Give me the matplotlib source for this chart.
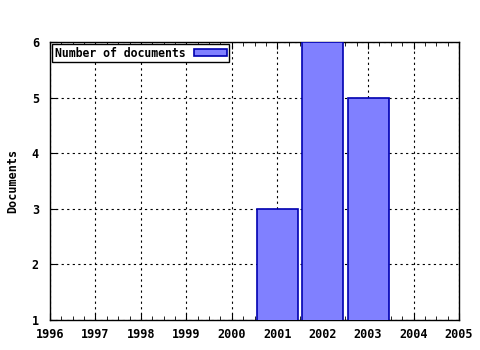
import numpy as np
import matplotlib
matplotlib.use("Agg")
import matplotlib.pyplot as plt
from matplotlib.ticker import MultipleLocator

years = [1996, 1997, 1998, 1999, 2000, 2001, 2002, 2003, 2004, 2005]
bar_years = [2001, 2002, 2003]
docs = [3, 6, 5]
y_ticks = [1, 2, 3, 4, 5, 6]

plt.rcParams['font.family'] = ['DejaVu Sans Mono']
plt.rcParams['font.weight'] = 'bold'

fig = plt.figure(figsize=(4.8, 3.5), dpi=100)
ax = fig.add_axes([50/480, 30/350, 409/480, 278/350])

ax.bar(bar_years, docs, width=0.9, color='#8080ff', edgecolor='#0000b0',
       linewidth=1.2, label='Number of documents', zorder=3)

ax.set_xlim(1996, 2005)
ax.set_ylim(1, 6)
ax.set_xticks(years)
ax.set_yticks(y_ticks)
ax.xaxis.set_minor_locator(MultipleLocator(0.25))
ax.grid(True, which='major', color='black', linestyle=(0, (2, 3)), linewidth=0.8)
ax.set_axisbelow(True)

ax.tick_params(axis='x', which='both', direction='in', top=True, labelsize=8.5, pad=6)
ax.tick_params(axis='x', which='major', length=5)
ax.tick_params(axis='x', which='minor', length=3)
ax.tick_params(axis='y', direction='in', length=5, labelsize=8.5, pad=8)
for lab in ax.get_xticklabels() + ax.get_yticklabels():
    lab.set_fontweight('bold')
for s in ax.spines.values():
    s.set_linewidth(1.0)

ax.set_ylabel('Documents', fontsize=8.5, fontweight='bold', labelpad=9)

leg = ax.legend(loc='upper left', markerfirst=False, fontsize=8.3, fancybox=False,
                framealpha=1, edgecolor='black', borderpad=0.2, handlelength=2.8,
                handleheight=0.5, borderaxespad=0.2, handletextpad=0.8)
leg.get_frame().set_linewidth(1.0)
for t in leg.get_texts():
    t.set_fontweight('bold')

fig.savefig('out.png', dpi=100)
